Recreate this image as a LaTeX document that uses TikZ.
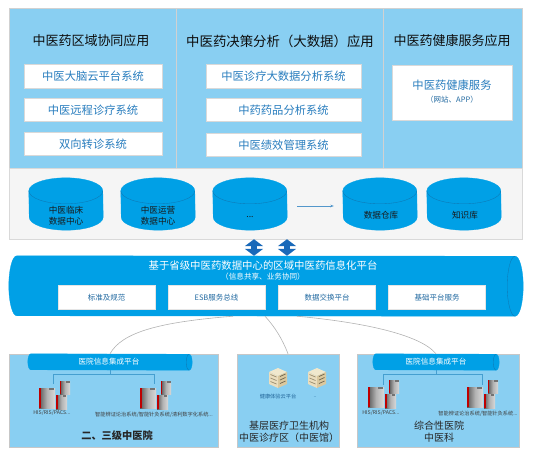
\documentclass[tikz,border=0pt]{standalone}
\usepackage{fontspec}
\setmainfont{Noto Sans CJK SC}
\usepackage{xcolor}
\usetikzlibrary{arrows.meta, positioning}

\definecolor{paneblue}{RGB}{137,207,242}
\definecolor{bandblue}{RGB}{0,160,230}
\definecolor{edgeblue}{RGB}{14,120,180}
\definecolor{textblue}{RGB}{40,125,190}
\definecolor{linkblue}{RGB}{25,105,185}
\definecolor{wallA}{RGB}{240,232,205}
\definecolor{wallB}{RGB}{235,222,190}
\definecolor{wallC}{RGB}{218,200,158}

\begin{document}
\begin{tikzpicture}[
    x=1pt, y=-1pt,
    panel/.style={rectangle, draw=#1, fill=paneblue, inner sep=0pt},
    panel/.default={black!18},
    title/.style={font=\fontsize{13}{15}\selectfont, text=black!95},
    sysbox/.style={rectangle, draw=black!15, fill=white, minimum width=138pt, minimum height=23.5pt, inner sep=0pt, text=textblue, font=\fontsize{11.3}{13}\selectfont},
    midbox/.style={sysbox, minimum width=155pt},
    drum/.style={draw=bandblue, line width=0.3pt, fill=bandblue},
    face/.style={draw=edgeblue, line width=0.35pt},
    db/.style={rectangle, minimum width=74pt, minimum height=52pt, inner sep=0pt, append after command={\pgfextra{
      \draw [drum] ([yshift=-13pt]\tikzlastnode.north west) arc[start angle=180, end angle=0, x radius=37pt, y radius=13pt]
        -- ([yshift=13pt]\tikzlastnode.south east) arc[start angle=0, end angle=-180, x radius=37pt, y radius=13pt] -- cycle;
      \draw [face] ([yshift=-13pt]\tikzlastnode.north west) arc[start angle=180, end angle=360, x radius=37pt, y radius=13pt];
    }}},
    dbtext/.style={align=center, text=black!90, font=\fontsize{8.6}{11}\selectfont},
    flatbox/.style={rectangle, draw=black!10, fill=white, minimum width=97pt, minimum height=24pt, inner sep=0pt, text=textblue!85!black, font=\fontsize{7.5}{9}\selectfont},
    bar/.style 2 args={rectangle, inner sep=0pt, append after command={\pgfextra{
      \draw [drum] ([xshift=#1]\tikzlastnode.north west) arc[start angle=90, end angle=270, x radius=#1, y radius=#2]
        -- ([xshift=-#1]\tikzlastnode.south east) arc[start angle=-90, end angle=90, x radius=#1, y radius=#2] -- cycle;
      \draw [face] ([xshift=-#1]\tikzlastnode.south east) arc[start angle=270, end angle=90, x radius=#1, y radius=#2];
    }}},
    bartext/.style={text=white, font=\fontsize{7.6}{9}\selectfont},
    link/.style={{Triangle[width=18pt,length=7pt]}-{Triangle[width=18pt,length=7pt]}, line width=6.5pt, draw=linkblue},
    flow/.style={-{Stealth[length=3.5pt]}, line width=0.7pt, draw=textblue!80},
    curve/.style={draw=black!30, line width=0.6pt},
    tree/.style={draw=edgeblue!55!paneblue, line width=0.6pt},
    small/.style={inner sep=0pt, text=black!75, font=\fontsize{5.2}{6}\selectfont},
    frametext/.style={align=center, text=black!85, font=\fontsize{10}{12}\selectfont},
    server/.pic={
      \fill[left color=black!65, right color=black!15, middle color=black!30] (0,0) rectangle (1,1.0);
      \fill[red!75!black] (0,0) rectangle (0.14,1);
      \fill[black!55] (0.62,0.02) rectangle (0.95,0.12);
    },
    building/.pic={
      \fill[wallA] (9,0) -- (18,4) -- (9,8) -- (0,4) -- cycle;
      \fill[wallB] (0,4) -- (9,8) -- (9,20) -- (0,16) -- cycle;
      \fill[wallC] (18,4) -- (9,8) -- (9,20) -- (18,16) -- cycle;
      \foreach \i in {0,1,2} {
        \draw[black!50!wallC, line width=0.7pt] (11,{8.5+3.5*\i}) -- (16.5,{6+3.5*\i});
        \draw[black!30!wallC, line width=0.7pt] (1.5,{6.5+3.5*\i}) -- (7.5,{9+3.5*\i});
      }
    }
  ]
    \useasboundingbox (0,0) rectangle (533,456);

    % Application panels
    \node (appA) [panel, minimum width=167pt, minimum height=160pt] at (93,88) {};
    \node (appB) [panel, minimum width=207pt, minimum height=160pt] at (280,88) {};
    \node (appC) [panel, minimum width=139pt, minimum height=160pt] at (453,88) {};
    \node (titleA) [title] at (91,41) {中医药区域协同应用};
    \node (titleB) [title, font=\fontsize{13.4}{15}\selectfont] at (280,41) {中医药决策分析（大数据）应用};
    \node (titleC) [title] at (452,41) {中医药健康服务应用};

    \node (sysA) [sysbox] at (93,76) {中医大脑云平台系统};
    \node (sysB) [sysbox, below=10pt of sysA] {中医远程诊疗系统};
    \node (sysC) [sysbox, below=10pt of sysB] {双向转诊系统};
    \node (sysD) [midbox] at (283.5,76) {中医诊疗大数据分析系统};
    \node (sysE) [midbox, below=10pt of sysD] {中药药品分析系统};
    \node (sysF) [midbox, below=11pt of sysE] {中医绩效管理系统};
    \node (sysG) [sysbox, minimum width=120pt, minimum height=55pt] at (452,92.5) {};
    \node (sysGa) [text=textblue, font=\fontsize{11.3}{13}\selectfont] at (452,85) {中医药健康服务};
    \node (sysGb) [text=textblue!85!black, font=\fontsize{7.5}{9}\selectfont] at (452,100) {（网站、APP）};

    % Data centres
    \node (dataPanel) [rectangle, draw=black!15, fill=black!4, minimum width=513pt, minimum height=71pt, inner sep=0pt] at (266,203.5) {};
    \node (dbA) [db] at (66,204) {};
    \node (dbB) [db] at (158,204) {};
    \node (dbC) [db] at (250,204) {};
    \node (dbD) [db] at (380,204) {};
    \node (dbE) [db] at (464,204) {};
    \node (dbAtext) [dbtext] at (66,215.5) {中医临床\\数据中心};
    \node (dbBtext) [dbtext] at (158,215.5) {中医运营\\数据中心};
    \node (dbCtext) [dbtext] at (250,217) {...};
    \node (dbDtext) [dbtext] at (381,215) {数据仓库};
    \node (dbEtext) [dbtext] at (465,215) {知识库};
    \draw [flow, shorten <=10pt, shorten >=9pt] ([yshift=-2pt]dbC.east) -- ([yshift=-2pt]dbD.west);

    % Regional platform
    \node (band) [bar={8pt}{30pt}, minimum width=514pt, minimum height=60pt] at (266,286) {};
    \node (bandA) [text=white, font=\fontsize{10.4}{12}\selectfont] at (263,266) {基于省级中医药数据中心的区域中医药信息化平台};
    \node (bandB) [text=white, font=\fontsize{7.6}{9}\selectfont] at (263,277) {（信息共享、业务协同）};
    \node (baseA) [flatbox] at (106.5,297.5) {标准及规范};
    \node (baseB) [flatbox] at (216.5,297.5) {ESB服务总线};
    \node (baseC) [flatbox] at (327,297.5) {数据交换平台};
    \node (baseD) [flatbox] at (437,297.5) {基础平台服务};

    % Links between layers
    \coordinate (linkA) at (254,248);
    \coordinate (linkB) at (287,248);
    \draw [link] (linkA |- dataPanel.south) -- (linkA |- band.north);
    \draw [link] (linkB |- dataPanel.south) -- (linkB |- band.north);

    % Hospitals
    \node (hospA) [panel=black!22, minimum width=209pt, minimum height=93pt] at (114,400.5) {};
    \node (hospB) [panel=black!22, minimum width=102pt, minimum height=93pt] at (288,400.5) {};
    \node (hospC) [panel=black!22, minimum width=162pt, minimum height=93pt] at (438,400.5) {};
    \node (barA) [bar={3pt}{8pt}, minimum width=164pt, minimum height=16pt] at (110,362) {};
    \node (barC) [bar={3pt}{8pt}, minimum width=126pt, minimum height=16pt] at (436,362) {};
    \node (barAtext) [bartext] at (109,362) {医院信息集成平台};
    \node (barCtext) [bartext] at (436,362) {医院信息集成平台};

    \draw [curve] ([xshift=-33pt]band.south) .. controls (160,322) and (122,332) .. (barA.north);
    \draw [curve] ([xshift=-1pt]band.south) .. controls (274,326) and (282,338) .. (hospB.north);
    \draw [curve] ([xshift=31pt]band.south) .. controls (360,322) and (420,334) .. (barC.north);

    % Servers
    \coordinate (srvA) at (53,384);
    \coordinate (srvB) at (154,384);
    \coordinate (srvC) at (383,385);
    \coordinate (srvD) at (482,385);
    \draw [tree] (barA.south) -- ++(0,4) -| (srvA);
    \draw [tree] (barA.south) -- ++(0,4) -| (srvB);
    \draw [tree] (barC.south) -- ++(0,4) -| (srvC);
    \draw [tree] (barC.south) -- ++(0,4) -| (srvD);

    \foreach \px/\py in {39/388, 140/388, 368/387, 467/387} {
      \pic [xscale=16, yscale=20] at (\px,\py) {server};
      \pic [xscale=10, yscale=13] at ({\px+21},{\py-7}) {server};
      \pic [xscale=11, yscale=14] at ({\px+17},{\py+7}) {server};
    }

    \node (srvAtext) [small] at (52,413) {HIS/RIS/PACS...};
    \node (srvBtext) [small] at (154,415) {智能辨证论治系统/智能针灸系统/清利数字化系统...};
    \node (srvCtext) [small] at (381,413) {HIS/RIS/PACS...};
    \node (srvDtext) [small] at (478,414) {智能辨证论治系统/智能针灸系统...};

    % Clinics
    \pic at (269,368) {building};
    \pic at (308,368) {building};
    \node (clinicA) [small, text=textblue!80!black] at (278,396) {健康体验云平台};
    \node (clinicB) [small, text=textblue!80!black] at (315,397) {..};

    \node (hospAtext) [frametext, font=\fontsize{10.2}{12}\bfseries\selectfont] at (117,436) {二、三级中医院};
    \node (hospBtext) [frametext] at (289,432) {基层医疗卫生机构\\中医诊疗区（中医馆）};
    \node (hospCtext) [frametext] at (439,432) {综合性医院\\中医科};
  \end{tikzpicture}
\end{document}
